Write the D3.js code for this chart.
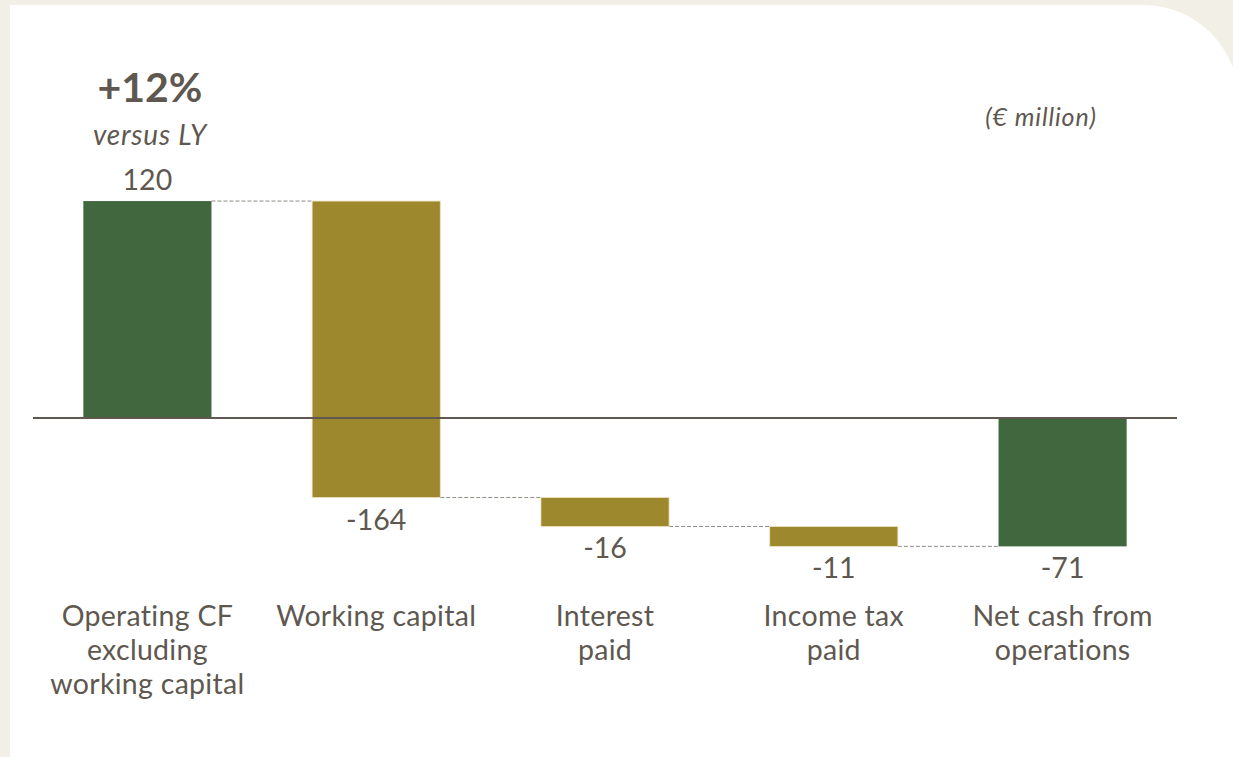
<!DOCTYPE html>
<html>
<head>
<meta charset="utf-8">
<script src="https://cdn.jsdelivr.net/npm/d3@7"></script>
<style>
  html, body { margin: 0; padding: 0; background: #f2f0e6; }
  svg { display: block; }
</style>
</head>
<body>
<script>
  // Chart data
  const categories = ['opcf', 'wc', 'interest', 'tax', 'net'];
  const categoryLabels = [
    ['Operating CF', 'excluding', 'working capital'],
    ['Working capital'],
    ['Interest', 'paid'],
    ['Income tax', 'paid'],
    ['Net cash from', 'operations'],
  ];
  const values = [120, -164, -16, -11, -71];
  const isTotal = [true, false, false, false, true];
  const valueLabels = ['120', '-164', '-16', '-11', '-71'];

  const fullWidth = 1233;
  const fullHeight = 757;
  const textColor = '#5e5850';
  const green = '#41673f';
  const gold = '#9d882e';

  const svg = d3.select('body')
    .append('svg')
    .attr('width', fullWidth)
    .attr('height', fullHeight);

  // White panel with rounded top-right corner
  const px = 10, py = 5, pr = 96, pRight = 1239;
  svg.append('path')
    .attr('d', `M${px},${py} H${pRight - pr} A${pr},${pr} 0 0 1 ${pRight},${py + pr} V${fullHeight + 5} H${px} Z`)
    .attr('fill', '#ffffff');

  // Waterfall steps
  let running = 0;
  const steps = categories.map((c, i) => {
    let start, end;
    if (isTotal[i]) {
      start = 0;
      end = values[i];
      running = values[i];
    } else {
      start = running;
      end = running + values[i];
      running = end;
    }
    return { key: c, value: values[i], start, end, total: isTotal[i], label: valueLabels[i], lines: categoryLabels[i] };
  });

  // Scales
  const xScale = d3.scaleBand()
    .domain(categories)
    .range([33, 1177])
    .paddingInner(0.44)
    .paddingOuter(0.22);

  const yScale = d3.scaleLinear()
    .domain([-100, 140])
    .range([418 + 180.8, 418 - 253.1]);

  // Connectors
  svg.append('g')
    .selectAll('line')
    .data(steps.slice(0, -1))
    .enter()
    .append('line')
    .attr('x1', d => xScale(d.key) + xScale.bandwidth())
    .attr('x2', (d, i) => xScale(steps[i + 1].key))
    .attr('y1', d => yScale(d.end))
    .attr('y2', d => yScale(d.end))
    .attr('stroke', '#8f8c86')
    .attr('stroke-width', 1)
    .attr('stroke-dasharray', '4,2');

  // Bars
  svg.append('g')
    .selectAll('rect')
    .data(steps)
    .enter()
    .append('rect')
    .attr('x', d => xScale(d.key))
    .attr('width', xScale.bandwidth())
    .attr('y', d => yScale(Math.max(d.start, d.end)))
    .attr('height', d => Math.abs(yScale(d.start) - yScale(d.end)))
    .attr('fill', d => (d.total ? green : gold))
    .attr('stroke', d => (d.total ? 'none' : '#e9e1bd'))
    .attr('stroke-width', 0.8);

  // Zero line
  svg.append('line')
    .attr('x1', xScale.range()[0])
    .attr('x2', xScale.range()[1])
    .attr('y1', yScale(0))
    .attr('y2', yScale(0))
    .attr('stroke', textColor)
    .attr('stroke-width', 2);

  // Value labels
  svg.append('g')
    .selectAll('text')
    .data(steps)
    .enter()
    .append('text')
    .attr('x', d => xScale(d.key) + xScale.bandwidth() / 2)
    .attr('y', d => (d.value >= 0 ? yScale(d.end) - 11 : yScale(Math.min(d.start, d.end)) + 32))
    .attr('text-anchor', 'middle')
    .style('font-family', 'Lato, sans-serif')
    .style('font-size', '28.5px')
    .style('fill', textColor)
    .text(d => d.label);

  // Category labels
  const cat = svg.append('g')
    .selectAll('text')
    .data(steps)
    .enter()
    .append('text')
    .attr('text-anchor', 'middle')
    .style('font-family', 'Lato, sans-serif')
    .style('font-size', '28.5px')
    .style('letter-spacing', '0.3px')
    .style('fill', textColor);

  cat.selectAll('tspan')
    .data(d => d.lines.map(l => ({ l, x: xScale(d.key) + xScale.bandwidth() / 2 })))
    .enter()
    .append('tspan')
    .attr('x', d => d.x)
    .attr('y', (d, i) => 626 + i * 34)
    .text(d => d.l);

  // Headline
  svg.append('text')
    .attr('x', 150)
    .attr('y', 102)
    .attr('text-anchor', 'middle')
    .style('font-family', 'Lato, sans-serif')
    .style('font-weight', 'bold')
    .style('font-size', '41px')
    .style('fill', textColor)
    .text('+12%');

  svg.append('text')
    .attr('x', 150)
    .attr('y', 145)
    .attr('text-anchor', 'middle')
    .style('font-family', 'Lato, sans-serif')
    .style('font-style', 'italic')
    .style('font-size', '28px')
    .style('letter-spacing', '0.8px')
    .style('fill', textColor)
    .text('versus LY');

  // Unit
  svg.append('text')
    .attr('x', 1041)
    .attr('y', 126)
    .attr('text-anchor', 'middle')
    .style('font-family', 'Lato, sans-serif')
    .style('font-style', 'italic')
    .style('font-size', '25px')
    .style('letter-spacing', '0.9px')
    .style('fill', textColor)
    .text('(€ million)');
</script>
</body>
</html>
